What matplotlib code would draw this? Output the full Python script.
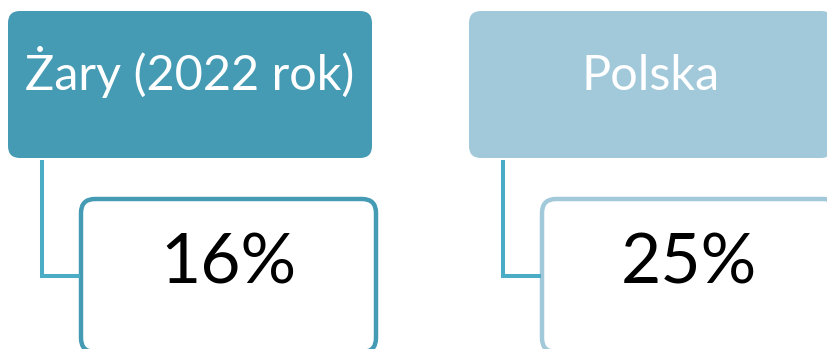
import matplotlib.pyplot as plt
from matplotlib.patches import FancyBboxPatch

# dane diagramu
labels = ['Żary (2022 rok)', 'Polska']
values = ['16%', '25%']
head_colors = ['#469BB4', '#A2C9DA']
line_color = '#4BACC6'

plt.rcParams['font.family'] = ['Lato', 'DejaVu Sans']

fig = plt.figure(figsize=(8.27, 3.49), dpi=100)
ax = fig.add_axes([0, 0, 1, 1])
ax.set_xlim(0, 827)
ax.set_ylim(349, 0)
ax.axis('off')

x0 = [8, 469]
for i in range(len(labels)):
    x = x0[i]
    # naglowek
    ax.add_patch(FancyBboxPatch((x, 11), 364, 147,
                                boxstyle='round,pad=0,rounding_size=12',
                                fc=head_colors[i], ec='none'))
    ax.text(x + 182, 90, labels[i], color='white', fontsize=35,
            ha='center', va='baseline')
    # lacznik
    ax.plot([x + 34, x + 34, x + 72], [160, 276, 276], color=line_color,
            lw=2.9, solid_joinstyle='miter', solid_capstyle='butt')
    # pole z wartoscia
    ax.add_patch(FancyBboxPatch((x + 73, 199), 295, 153,
                                boxstyle='round,pad=0,rounding_size=14',
                                fc='white', ec=head_colors[i], lw=3.2))
    ax.text(x + 220, 283, values[i], color='black', fontsize=50,
            ha='center', va='baseline')

fig.savefig('out.png', dpi=100)
